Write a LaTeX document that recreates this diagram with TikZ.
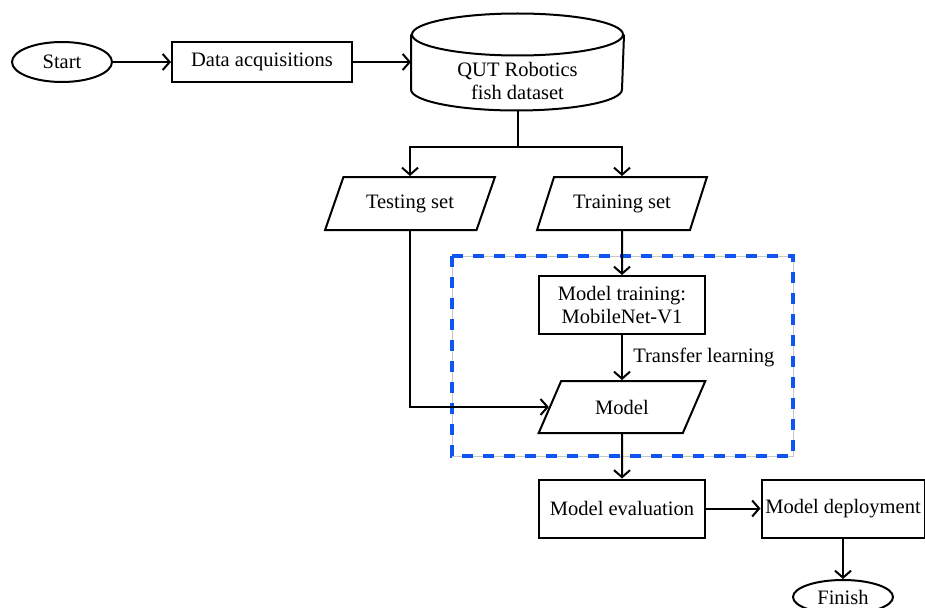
\documentclass[tikz,border=0pt]{standalone}
\usepackage{fontspec}
\setmainfont{Liberation Serif}
\usetikzlibrary{shapes.geometric,arrows.meta}
\definecolor{boxblue}{RGB}{15,85,245}

\begin{document}
\begin{tikzpicture}[x=1pt,y=1pt,->,>={Straight Barb[length=7pt,width=16pt]},line width=2pt,
    font=\fontsize{20.5}{23.5}\selectfont,
    term node/.style={ellipse,draw,minimum width=100pt,minimum height=40pt,inner sep=0pt},
    proc node/.style={rectangle,draw,align=center,minimum width=166pt,minimum height=58pt,inner sep=2pt},
    io node/.style={trapezium,trapezium left angle=60,trapezium right angle=120,draw,
        trapezium stretches=true,minimum width=170pt,minimum height=53pt,inner sep=2pt}]
    \useasboundingbox (0,0) rectangle (925,-607);

    % training block
    \draw[-,gray!45,line width=0.8pt] (452,-256) rectangle (793,-456);
    \draw[-,boxblue,line width=3.5pt,dash pattern=on 11pt off 10pt] (452,-256) rectangle (793,-456);

    \node[term node] (start) at (62,-62) {Start};
    \node[proc node,minimum width=180pt,minimum height=40pt] (acq) at (262,-62) {Data acquisitions};
    \node[minimum width=211pt,minimum height=95pt,inner sep=0pt] (db) at (517.5,-62) {};
    \node[align=center] (dbtext) at ([yshift=-19pt]db.center) {QUT Robotics\\fish dataset};
    \coordinate (split) at (517.5,-147);
    \node[io node] (test) at (410,-203.5) {Testing set};
    \node[io node] (train) at (622,-203.5) {Training set};
    \node[proc node] (mtrain) at (622,-305) {Model training:\\MobileNet-V1};
    \node[io node,minimum width=168pt,minimum height=52pt] (model) at (622,-407) {Model};
    \node[proc node] (eval) at (622,-508.5) {Model evaluation};
    \node[proc node,minimum width=163pt] (deploy) at (843,-508.5) {Model deployment};
    \node[term node,minimum height=34pt] (finish) at (843,-597) {Finish};

    % database cylinder
    \draw[-] ([yshift=-21pt]db.north) ellipse [x radius=105.5pt,y radius=21pt];
    \draw[-] ([yshift=-21pt]db.north west) -- ([yshift=21pt]db.south west)
        arc [start angle=180,end angle=360,x radius=105.5pt,y radius=21pt]
        -- ([yshift=-21pt]db.north east);

    \path (start) edge (acq)
          (acq) edge (db)
          (db) edge[-] (split)
          (train) edge (mtrain)
          (mtrain) edge node[right,xshift=7pt] {Transfer learning} (model)
          (model) edge (eval)
          (eval) edge (deploy)
          (deploy) edge (finish);
    \draw (split) -| (test);
    \draw (split) -| (train);
    \draw (test) |- (model);
\end{tikzpicture}
\end{document}
